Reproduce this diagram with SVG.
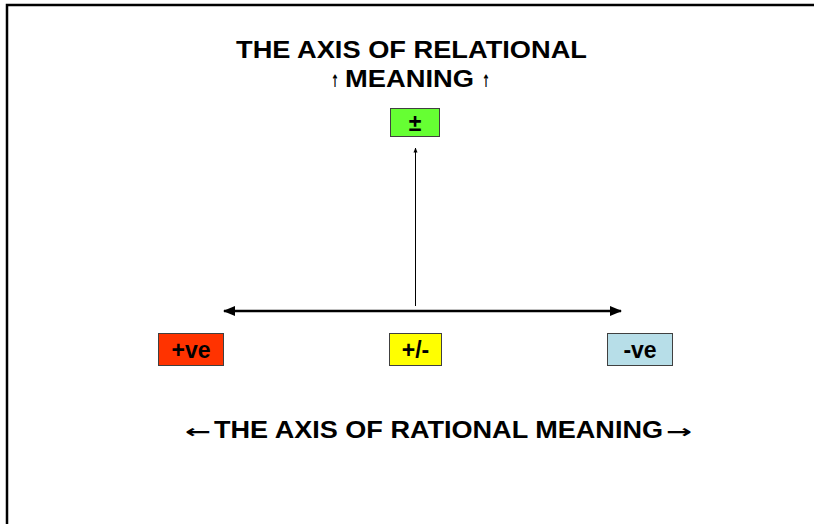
<svg xmlns="http://www.w3.org/2000/svg" width="814" height="524" viewBox="0 0 814 524">
<defs>
<style>
.t{font-family:"Liberation Sans",Arial,sans-serif;font-weight:bold;fill:#000}
.ar{font-family:"DejaVu Sans",sans-serif;font-weight:bold;fill:#000}
.box{stroke:#404040;stroke-width:1}
.lbl{font-family:"Liberation Sans",Arial,sans-serif;font-weight:bold;font-size:23px;text-anchor:middle;fill:#000}
</style>
<marker id="ah" viewBox="0 0 10 10" refX="9" refY="5" markerWidth="5" markerHeight="5" orient="auto-start-reverse" markerUnits="strokeWidth">
<path d="M0,1 L10,5 L0,9 Z" fill="#000"/>
</marker>
<marker id="ahs" viewBox="0 0 10 10" refX="9" refY="5" markerWidth="5" markerHeight="5" orient="auto" markerUnits="strokeWidth">
<path d="M0,1 L10,5 L0,9 Z" fill="#000"/>
</marker>
</defs>
<rect width="814" height="524" fill="#fff"/>
<g id="frame" fill="none" stroke="#000" stroke-width="2.5">
<path d="M7,524 L7,5 L814,5"/>
</g>
<g id="title">
<text class="t" x="236" y="58" font-size="23" textLength="351" lengthAdjust="spacingAndGlyphs">THE AXIS OF RELATIONAL</text>
<text class="t" y="87" font-size="23"><tspan class="ar" x="331" font-size="17" textLength="8" lengthAdjust="spacingAndGlyphs">↑</tspan><tspan x="345" textLength="129" lengthAdjust="spacingAndGlyphs">MEANING</tspan><tspan class="ar" x="482" font-size="17" textLength="8" lengthAdjust="spacingAndGlyphs">↑</tspan></text>
</g>
<g id="bottom-title">
<text class="t" y="438" font-size="23"><tspan class="ar" x="185" font-size="18" textLength="26" lengthAdjust="spacingAndGlyphs">←</tspan><tspan x="214" textLength="449" lengthAdjust="spacingAndGlyphs">THE AXIS OF RATIONAL MEANING</tspan><tspan class="ar" x="666" font-size="18" textLength="26" lengthAdjust="spacingAndGlyphs">→</tspan></text>
</g>
<g id="connectors" fill="none" stroke="#000">
<line x1="415.5" y1="306" x2="415.5" y2="148" stroke-width="1" marker-end="url(#ahs)"/>
<line x1="224" y1="311" x2="621" y2="311" stroke-width="2.5" marker-start="url(#ah)" marker-end="url(#ah)"/>
</g>
<g id="node-pm">
<rect class="box" x="390.5" y="108.5" width="49" height="28" fill="#66FF33"/>
<text class="lbl" x="415" y="131">±</text>
</g>
<g id="node-pos">
<rect class="box" x="158.5" y="333.5" width="65" height="32" fill="#FF3300"/>
<text class="lbl" x="191" y="358">+ve</text>
</g>
<g id="node-mid">
<rect class="box" x="389.5" y="333.5" width="52" height="32" fill="#FFFF00"/>
<text class="lbl" x="415.5" y="358">+/-</text>
</g>
<g id="node-neg">
<rect class="box" x="607.5" y="333.5" width="65" height="32" fill="#B7DEE8"/>
<text class="lbl" x="640" y="358">-ve</text>
</g>
</svg>
